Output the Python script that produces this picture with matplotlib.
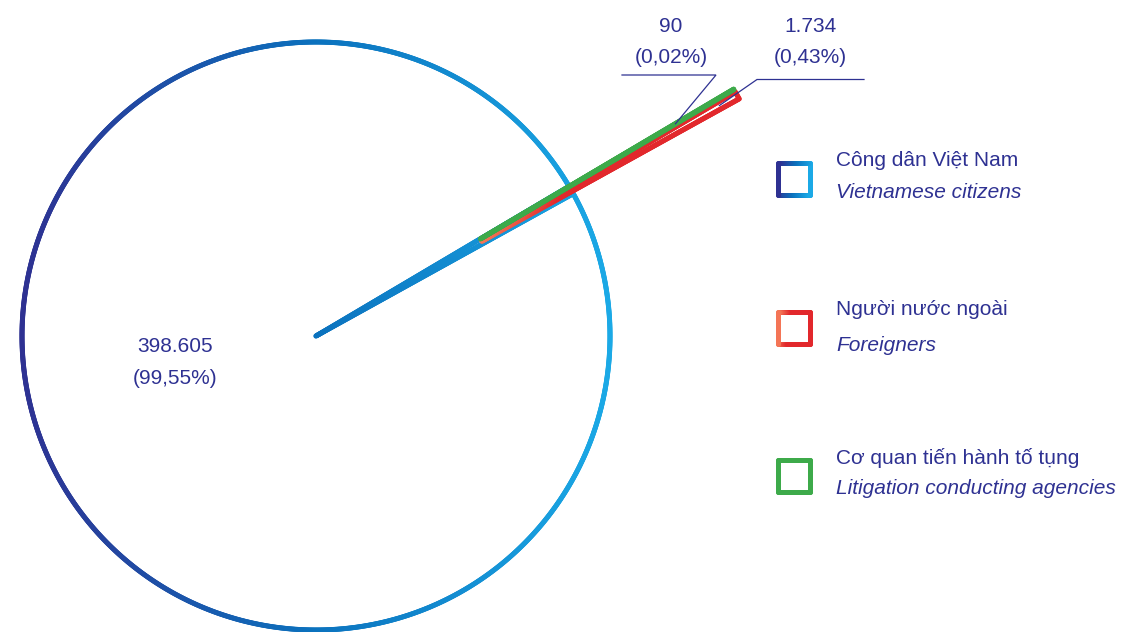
import numpy as np
import matplotlib
matplotlib.use("Agg")
import matplotlib.pyplot as plt
from matplotlib.collections import LineCollection
from matplotlib.colors import LinearSegmentedColormap

# ---- data -------------------------------------------------------------
categories_vi = ["Công dân Việt Nam", "Người nước ngoài", "Cơ quan tiến hành tố tụng"]
categories_en = ["Vietnamese citizens", "Foreigners", "Litigation conducting agencies"]
counts = [398605, 1734, 90]
pct_labels = ["99,55%", "0,43%", "0,02%"]

# ---- style ------------------------------------------------------------
W, H = 1126, 632
TEXT = "#2E3192"
FONT = "Liberation Sans"
FS = 15
LW = 3.6          # stroke width in points (~5 px)

blue_cmap = LinearSegmentedColormap.from_list(
    "blue", [(0, "#2E3192"), (0.5, "#0B72BE"), (1, "#1BA9E6")])
red_cmap = LinearSegmentedColormap.from_list(
    "red", [(0, "#F47556"), (0.3, "#E2282C"), (1, "#E2282C")])
green_cmap = LinearSegmentedColormap.from_list("green", ["#3DAA4A", "#3DAA4A"])
cmaps = [blue_cmap, red_cmap, green_cmap]


def fmt_count(v):
    return f"{v:,}".replace(",", ".")


def py(y):
    """Convert a top-down pixel row into the axes' bottom-up coordinate."""
    return H - y


def densify(pts, step=1.0):
    out = [pts[0]]
    for a, b in zip(pts[:-1], pts[1:]):
        d = np.hypot(*(b - a))
        n = max(int(d / step), 1)
        t = np.linspace(0, 1, n + 1)[1:]
        out.extend(a + (b - a) * t[:, None])
    return np.array(out)


def wedge_outline(w):
    c = np.asarray(w.center, dtype=float)
    n = max(int(abs(w.theta2 - w.theta1) * 4), 2)
    th = np.radians(np.linspace(w.theta1, w.theta2, n))
    arc = c + w.r * np.column_stack([np.cos(th), np.sin(th)])
    return densify(np.vstack([c, arc, c]))


def gradient_stroke(ax, pts, cmap, x0, x1, lw, z):
    segs = np.stack([pts[:-1], pts[1:]], axis=1)
    xm = segs[:, :, 0].mean(axis=1)
    f = np.clip((xm - x0) / (x1 - x0), 0, 1)
    lc = LineCollection(segs, colors=cmap(f), linewidths=lw,
                        capstyle="round", joinstyle="round", zorder=z)
    ax.add_collection(lc)


fig = plt.figure(figsize=(W / 100, H / 100), dpi=100)
ax = fig.add_axes([0, 0, 1, 1])

cx, cy, R = 316, py(336), 294
explode_frac = [0, 0.65, 0.65]
wedges, _ = ax.pie(counts, radius=R, center=(cx, cy), startangle=30.6,
                   explode=[e * R for e in explode_frac],
                   wedgeprops=dict(fill=False, edgecolor="none"))
ax.set_xlim(0, W)
ax.set_ylim(0, H)
ax.set_aspect("equal")
ax.axis("off")

# gradient outlines of the slices
for i, (w, cmap) in enumerate(zip(wedges, cmaps)):
    pts = wedge_outline(w)
    if i == 0:
        x0, x1 = cx - R, cx + R
    else:
        x0, x1 = pts[:, 0].min(), pts[:, 0].max()
    gradient_stroke(ax, pts, cmap, x0, x1, LW, 2 + i)

# value labels
vals = [fmt_count(v) for v in counts]
ax.text(175, py(352), vals[0], ha="center", va="baseline", color=TEXT,
        fontsize=FS, family=FONT)
ax.text(175, py(384), f"({pct_labels[0]})", ha="center", va="baseline",
        color=TEXT, fontsize=FS, family=FONT)


def anchor(w, frac):
    mid = np.radians((w.theta1 + w.theta2) / 2)
    c = np.asarray(w.center, dtype=float)
    return c + frac * w.r * np.array([np.cos(mid), np.sin(mid)])


# agencies (green) label with leader
ax.text(671, py(32), vals[2], ha="center", va="baseline", color=TEXT,
        fontsize=FS, family=FONT)
ax.text(671, py(63), f"({pct_labels[2]})", ha="center", va="baseline",
        color=TEXT, fontsize=FS, family=FONT)
ag = anchor(wedges[2], 0.77)
ax.plot([622, 716, ag[0]], [py(75), py(75), ag[1]], color=TEXT, lw=0.9,
        zorder=6, solid_joinstyle="miter")

# foreigners (red) label with leader
ax.text(810, py(32), vals[1], ha="center", va="baseline", color=TEXT,
        fontsize=FS, family=FONT)
ax.text(810, py(63), f"({pct_labels[1]})", ha="center", va="baseline",
        color=TEXT, fontsize=FS, family=FONT)
ar = anchor(wedges[1], 0.93)
ax.plot([864, 757, ar[0]], [py(79.5), py(79.5), ar[1]], color=TEXT, lw=0.9,
        zorder=6, solid_joinstyle="miter")

# legend: gradient outlined squares with bilingual labels
legend_rows = [179, 328, 476]
baselines = [(166.5, 197.5), (315, 351), (464, 494)]
half = 16
for row, cmap, vi, en, (b1, b2) in zip(legend_rows, cmaps, categories_vi,
                                       categories_en, baselines):
    lx, ly = 793.5, py(row)
    sq = np.array([[lx - half, ly - half], [lx + half, ly - half],
                   [lx + half, ly + half], [lx - half, ly + half],
                   [lx - half, ly - half]])
    gradient_stroke(ax, densify(sq, 0.5), cmap, lx - half, lx + half, LW, 5)
    ax.text(836, py(b1), vi, ha="left", va="baseline", color=TEXT,
            fontsize=FS, family=FONT)
    ax.text(836, py(b2), en, ha="left", va="baseline", color=TEXT,
            fontsize=FS, family=FONT, style="italic")

fig.savefig("out.png", dpi=100, facecolor="white")
